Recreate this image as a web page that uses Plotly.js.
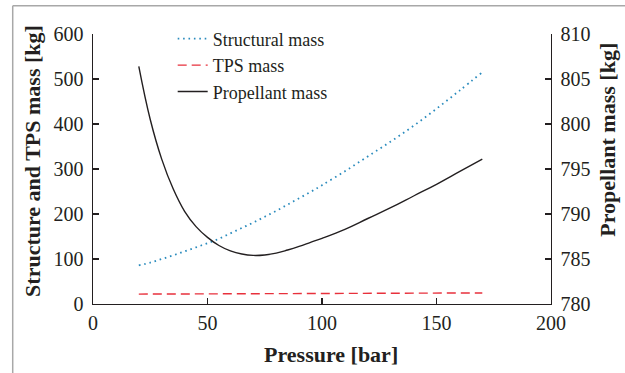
<!DOCTYPE html>
<html>
<head>
<meta charset="utf-8">
<script src="https://cdn.plot.ly/plotly-3.0.1.min.js"></script>
<style>
  html, body { margin: 0; padding: 0; background: #fff; }
  #chart { width: 625px; height: 373px; }
</style>
</head>
<body>
<div id="chart"></div>
<script>
// Pressure [bar]
const pressure = [20, 25, 30, 35, 40, 45, 50, 55, 60, 65, 70, 75, 80, 85, 90, 95, 100, 110, 120, 130, 140, 150, 160, 170];
// Structural mass [kg] (left axis)
const structuralMass = [86, 92, 100, 108, 117, 126, 135, 145, 157, 169, 181, 194, 207, 221, 235, 249, 264, 295, 328, 361, 396, 434, 474, 515];
// TPS mass [kg] (left axis)
const tpsMass = [22, 22.1, 22.3, 22.4, 22.5, 22.6, 22.7, 22.8, 22.9, 23.0, 23.1, 23.2, 23.3, 23.4, 23.5, 23.6, 23.7, 23.8, 23.9, 24.0, 24.1, 24.2, 24.4, 24.6];
// Propellant mass [kg] (right axis)
const propellantMass = [806.4, 800.5, 796.1, 792.8, 790.3, 788.6, 787.4, 786.5, 785.9, 785.55, 785.4, 785.45, 785.65, 786.0, 786.4, 786.85, 787.3, 788.3, 789.5, 790.7, 792.0, 793.3, 794.7, 796.1];

const xTicks = [0, 50, 100, 150, 200];
const yLeftTicks = [0, 100, 200, 300, 400, 500, 600];
const yRightTicks = [780, 785, 790, 795, 800, 805, 810];

const FONT = 'Liberation Serif, Times New Roman, serif';
const INK = '#231f20';

const traces = [
  {
    x: pressure, y: structuralMass, name: 'Structural mass', type: 'scatter', mode: 'lines',
    line: { color: '#2a8bbd', width: 1.8, dash: '1.6px,3.8px', shape: 'spline' }
  },
  {
    x: pressure, y: tpsMass, name: 'TPS mass', type: 'scatter', mode: 'lines',
    line: { color: '#e8313c', width: 1.4, dash: '9px,5px' }
  },
  {
    x: pressure, y: propellantMass, name: 'Propellant mass', type: 'scatter', mode: 'lines',
    yaxis: 'y2',
    line: { color: INK, width: 1.4, shape: 'spline', smoothing: 1.2 }
  }
];

const axisCommon = {
  showgrid: false, zeroline: false, showline: true, linecolor: INK, linewidth: 1.4,
  ticks: 'inside', ticklen: 6, tickwidth: 1.3, tickcolor: INK,
  tickfont: { family: FONT, size: 20, color: INK }
};

const layout = {
  width: 625, height: 373,
  margin: { l: 93, r: 74, t: 34, b: 69 },
  paper_bgcolor: '#fff', plot_bgcolor: '#fff',
  showlegend: true,
  legend: {
    x: 0.174, y: 1.05, xanchor: 'left', yanchor: 'top',
    bgcolor: 'rgba(0,0,0,0)', borderwidth: 0,
    font: { family: FONT, size: 18, color: INK },
    tracegroupgap: 0
  },
  xaxis: Object.assign({}, axisCommon, {
    range: [0, 200], tickvals: xTicks, ticktext: xTicks.map(String), ticklabelstandoff: 1
  }),
  yaxis: Object.assign({}, axisCommon, {
    range: [0, 600], tickvals: yLeftTicks, ticktext: yLeftTicks.map(String), ticklabelstandoff: 4
  }),
  yaxis2: Object.assign({}, axisCommon, {
    range: [780, 810], tickvals: yRightTicks, ticktext: yRightTicks.map(String),
    overlaying: 'y', side: 'right', ticklabelstandoff: 4
  }),
  annotations: [
    { text: '<b>Pressure [bar]</b>', xref: 'paper', yref: 'paper', x: 0.52, y: -0.188,
      xanchor: 'center', yanchor: 'middle', showarrow: false,
      font: { family: FONT, size: 22, color: INK } },
    { text: '<b>Structure and TPS mass [kg]</b>', xref: 'paper', yref: 'paper', x: -0.131, y: 0.53,
      xanchor: 'center', yanchor: 'middle', showarrow: false, textangle: -90,
      font: { family: FONT, size: 22, color: INK } },
    { text: '<b>Propellant mass [kg]</b>', xref: 'paper', yref: 'paper', x: 1.1245, y: 0.6085,
      xanchor: 'center', yanchor: 'middle', showarrow: false, textangle: -90,
      font: { family: FONT, size: 22, color: INK } }
  ],
  shapes: [
    { type: 'line', xref: 'paper', yref: 'paper', x0: -0.1753, x1: 1.2, y0: 1.1048, y1: 1.1048,
      line: { color: '#a8a8a8', width: 1.5 } },
    { type: 'line', xref: 'paper', yref: 'paper', x0: -0.1753, x1: -0.1753, y0: 1.1048, y1: -0.3,
      line: { color: '#a8a8a8', width: 1.5 } }
  ]
};

Plotly.newPlot('chart', traces, layout, { displayModeBar: false, staticPlot: true });
</script>
</body>
</html>
